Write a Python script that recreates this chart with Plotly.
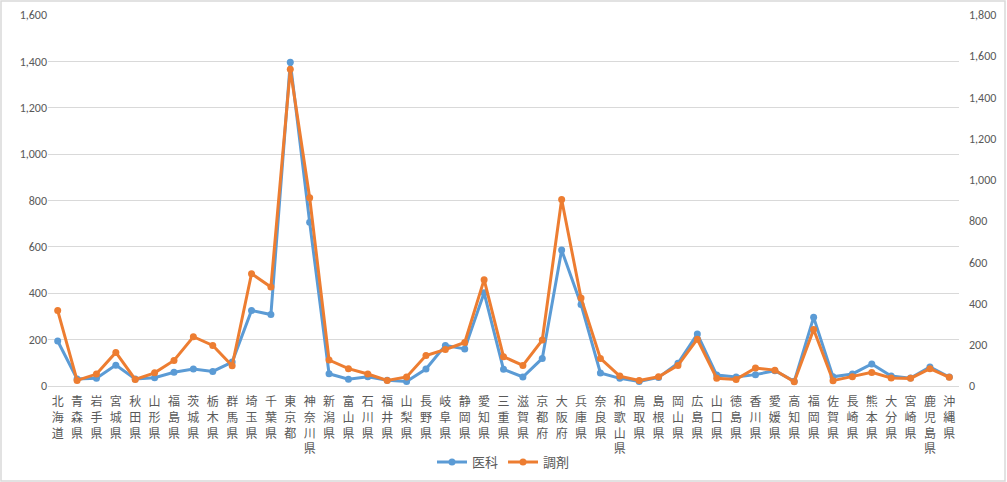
import plotly.graph_objects as go

prefectures = ["北海道","青森県","岩手県","宮城県","秋田県","山形県","福島県","茨城県","栃木県","群馬県",
               "埼玉県","千葉県","東京都","神奈川県","新潟県","富山県","石川県","福井県","山梨県","長野県",
               "岐阜県","静岡県","愛知県","三重県","滋賀県","京都府","大阪府","兵庫県","奈良県","和歌山県",
               "鳥取県","島根県","岡山県","広島県","山口県","徳島県","香川県","愛媛県","高知県","福岡県",
               "佐賀県","長崎県","熊本県","大分県","宮崎県","鹿児島県","沖縄県"]

ika = [194, 30, 33, 90, 30, 36, 59, 73, 63, 103,
       326, 308, 1396, 706, 53, 29, 40, 25, 19, 73,
       175, 160, 402, 72, 39, 119, 586, 352, 56, 33,
       19, 37, 98, 224, 47, 39, 49, 66, 20, 296,
       40, 52, 95, 43, 34, 82, 39]

chozai = [366, 27, 58, 163, 32, 64, 124, 239, 197, 98,
          545, 480, 1537, 913, 126, 84, 58, 27, 44, 148,
          177, 211, 516, 142, 100, 223, 905, 427, 134, 48,
          27, 45, 100, 227, 37, 32, 87, 77, 21, 274,
          26, 45, 66, 39, 37, 84, 42]

left_ticks = list(range(0, 1601, 200))
right_ticks = list(range(0, 1801, 200))

W, H = 1007, 482
ML, MR, MT, MB = 48, 48, 15, 96

vert_labels = ["<br>".join(list(p)) for p in prefectures]

font_fam = "Calibri, Carlito, 'Noto Sans CJK JP', sans-serif"
gray = "#595959"

fig = go.Figure()
fig.add_trace(go.Scatter(x=prefectures, y=ika, name="医科", mode="lines+markers",
                         line=dict(color="#5B9BD5", width=3),
                         marker=dict(color="#5B9BD5", size=7), yaxis="y"))
fig.add_trace(go.Scatter(x=prefectures, y=chozai, name="調剤", mode="lines+markers",
                         line=dict(color="#ED7D31", width=3),
                         marker=dict(color="#ED7D31", size=7), yaxis="y2"))

pw = W - ML - MR
ph = H - MT - MB
x0 = (1 - ML) / pw
x1 = (1005 - ML) / pw
y0 = -(MB - 1) / ph
y1 = 1 + (MT - 1) / ph

fig.update_layout(
    width=W, height=H,
    margin=dict(l=ML, r=MR, t=MT, b=MB, autoexpand=False),
    paper_bgcolor="white", plot_bgcolor="white",
    font=dict(family=font_fam, size=12, color=gray),
    showlegend=True,
    legend=dict(orientation="h", x=0.5, xanchor="center", y=-0.205, yanchor="middle",
                font=dict(family="'Noto Sans CJK JP', sans-serif", size=13, color=gray)),
    xaxis=dict(tickmode="array", tickvals=prefectures, ticktext=vert_labels,
               tickangle=0, showgrid=False, showline=True, linecolor="#D9D9D9",
               ticks="", tickfont=dict(family="'Noto Sans CJK JP', sans-serif", size=12, color=gray),
               range=[-0.5, len(prefectures) - 0.5], automargin=False, ticklabelstandoff=5),
    yaxis=dict(range=[0, 1600], tickvals=left_ticks, tickformat=",d", showgrid=True,
               gridcolor="#D9D9D9", gridwidth=1, zeroline=False, showline=False, ticks="",
               automargin=False, tickfont=dict(size=12, color=gray)),
    yaxis2=dict(range=[0, 1800], tickvals=right_ticks, tickformat=",d", overlaying="y",
                side="right", showgrid=False, zeroline=False, showline=False, ticks="",
                automargin=False, ticklabelstandoff=9, tickfont=dict(size=12, color=gray)),
    shapes=[dict(type="rect", xref="paper", yref="paper", x0=x0, x1=x1, y0=y0, y1=y1,
                 line=dict(color="#D9D9D9", width=1.5), fillcolor="rgba(0,0,0,0)", layer="above")],
)

fig.write_html("out.html")
